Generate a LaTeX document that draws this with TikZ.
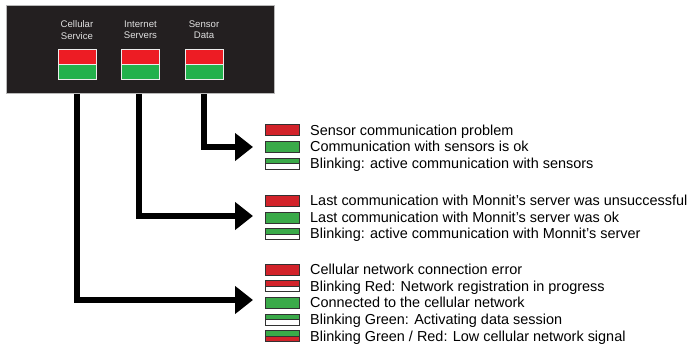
\documentclass[tikz,border=0pt]{standalone}
\usepackage{fontspec}
\setmainfont{Liberation Sans}
\usetikzlibrary{arrows.meta}
\definecolor{boxdark}{RGB}{35,31,32}
\definecolor{ledred}{RGB}{237,28,36}
\definecolor{ledgreen}{RGB}{34,177,76}
\definecolor{lgred}{RGB}{210,35,42}
\definecolor{lggreen}{RGB}{58,170,73}
\definecolor{edge}{RGB}{50,50,50}
\begin{document}
\begin{tikzpicture}[x=1pt,y=-1pt,
  panel/.style={draw=gray!55, line width=0.8pt, fill=boxdark, inner sep=0,
    minimum width=267.5pt, minimum height=88.3pt},
  led/.style={draw=white!85!gray, line width=0.7pt, minimum width=38pt,
    minimum height=30pt, inner sep=0,
    path picture={
      \fill[ledred] (path picture bounding box.north west) rectangle (path picture bounding box.east);
      \fill[ledgreen] (path picture bounding box.west) rectangle (path picture bounding box.south east);
      \draw[white!85!gray, line width=0.7pt] (path picture bounding box.west) -- (path picture bounding box.east);}},
  ledlabel/.style={text=white!88!black, font=\fontsize{9.6}{11.7}\selectfont,
    align=center, inner sep=0, anchor=north},
  solidsw/.style={draw=edge, line width=0.8pt, fill=#1, minimum width=34pt,
    minimum height=11pt, inner sep=0},
  splitsw/.style 2 args={draw=edge, line width=0.8pt, minimum width=34pt,
    minimum height=11pt, inner sep=0,
    path picture={
      \fill[#1] (path picture bounding box.north west) rectangle (path picture bounding box.east);
      \fill[#2] (path picture bounding box.west) rectangle (path picture bounding box.south east);
      \draw[edge, line width=0.8pt] (path picture bounding box.west) -- (path picture bounding box.east);}},
  legtext/.style={font=\fontsize{14.45}{17}\selectfont, inner sep=0, anchor=base west},
  conn/.style={line width=6pt, draw=black, -{Triangle[length=18pt,width=27pt]}}
]
\useasboundingbox (0,0) rectangle (689,350);

% panel with LEDs
\node[panel, anchor=north west] (panel) at (6.3,4.7) {};
\node[led] (led1) at (77,64) {};
\node[led] (led2) at (140.5,64) {};
\node[led] (led3) at (204,64) {};
\node[ledlabel] (lab1) at (77,20.3) {Cellular\\Service};
\node[ledlabel] (lab2) at (140.5,20.3) {Internet\\Servers};
\node[ledlabel] (lab3) at (204,20.3) {Sensor\\Data};

% arrow targets
\coordinate (t3) at (253,147);
\coordinate (t2) at (253,216);
\coordinate (t1) at (253,300);

% connectors
\draw[conn] (led3.south |- panel.south) |- (t3);
\draw[conn] ([xshift=-1.5pt]led2.south |- panel.south) |- (t2);
\draw[conn] (led1.south |- panel.south) |- (t1);

% group: sensor data
\node[solidsw=lgred] (s1) at (282.5,130.2) {};
\node[solidsw=lggreen] (s2) at (282.5,147) {};
\node[splitsw={lggreen}{white}] (s3) at (282.5,163.7) {};
\node[legtext] (st1) at (310,135.2) {Sensor communication problem};
\node[legtext] (st2) at (310,152) {Communication with sensors is ok};
\node[legtext] (st3) at (310,168.7) {Blinking: active communication with sensors};

% group: internet servers
\node[solidsw=lgred] (i1) at (282.5,201) {};
\node[solidsw=lggreen] (i2) at (282.5,217.5) {};
\node[splitsw={lggreen}{white}] (i3) at (282.5,234) {};
\node[legtext] (it1) at (310,206) {Last communication with Monnit’s server was unsuccessful};
\node[legtext] (it2) at (310,222.5) {Last communication with Monnit’s server was ok};
\node[legtext] (it3) at (310,239) {Blinking: active communication with Monnit’s server};

% group: cellular service
\node[solidsw=lgred] (c1) at (282.5,269.7) {};
\node[splitsw={lgred}{white}] (c2) at (282.5,286.3) {};
\node[solidsw=lggreen] (c3) at (282.5,303) {};
\node[splitsw={lggreen}{white}] (c4) at (282.5,319.7) {};
\node[splitsw={lggreen}{lgred}] (c5) at (282.5,336.3) {};
\node[legtext] (ct1) at (310,274.7) {Cellular network connection error};
\node[legtext] (ct2) at (310,291.3) {Blinking Red: Network registration in progress};
\node[legtext] (ct3) at (310,308) {Connected to the cellular network};
\node[legtext] (ct4) at (310,324.7) {Blinking Green: Activating data session};
\node[legtext] (ct5) at (310,341.3) {Blinking Green / Red: Low cellular network signal};
\end{tikzpicture}
\end{document}
